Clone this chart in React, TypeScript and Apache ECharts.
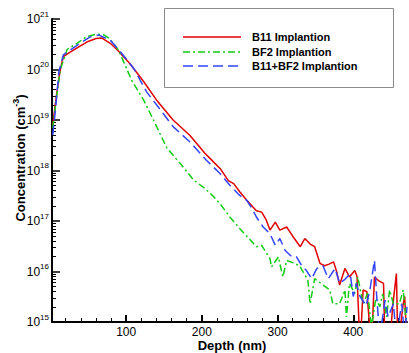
import React, { useEffect, useRef } from "react";
import * as echarts from "echarts";

const depthB11 = [3, 8, 13, 17, 26, 39, 48, 60, 68, 79, 90, 105, 123, 140, 162, 184, 204, 215, 224, 235, 242, 250, 259, 266, 272, 279, 285, 290, 297, 303, 312, 320, 330, 336, 343, 349, 356, 362, 368, 374, 378, 382, 389, 395, 402, 405, 409, 413, 418, 424, 428, 434, 440, 442, 448, 452, 457, 459, 466, 468, 471];
const concB11 = [8e18, 3.2e19, 1e20, 1.8e20, 2.2e20, 2.9e20, 3.5e20, 4.1e20, 4.2e20, 3.3e20, 2.3e20, 1.3e20, 5.8e19, 2.5e19, 1e19, 5e18, 2.2e18, 1.5e18, 1.1e18, 6.3e17, 5.5e17, 3.8e17, 2.6e17, 2.0e17, 1.6e17, 1.5e17, 1.05e17, 6.6e16, 9.5e16, 6.6e16, 7.6e16, 5e16, 3.1e16, 4.5e16, 3.5e16, 3.1e16, 1.45e16, 1.3e16, 1.4e16, 1.55e16, 1e16, 5.4e15, 1.15e16, 7.8e15, 1.05e16, 8e15, 3e14, 4.3e15, 4e15, 3e14, 7.8e15, 6.5e15, 5.8e15, 3e14, 3e14, 2e15, 9.1e15, 3e14, 2.3e15, 3.2e15, 3e14];

const depthBF2 = [3, 8, 13, 22, 35, 48, 61, 70, 77, 84, 90, 96, 107, 123, 136, 154, 171, 189, 204, 214, 224, 237, 250, 264, 272, 279, 290, 292, 301, 307, 312, 320, 329, 340, 343, 349, 360, 369, 373, 382, 389, 391, 395, 402, 406, 413, 419, 424, 430, 435, 439, 444, 448, 453, 461, 466, 470];
const concBF2 = [7e18, 2.8e19, 1e20, 2.5e20, 3.3e20, 4.5e20, 5.0e20, 4.9e20, 4.2e20, 3.2e20, 2.4e20, 1.5e20, 6.2e19, 2.5e19, 1e19, 2.75e18, 1.4e18, 6.5e17, 4.4e17, 3.2e17, 2.2e17, 1.2e17, 7.1e16, 4.2e16, 3.1e16, 3.3e16, 1.8e16, 1.23e16, 1.95e16, 7.8e15, 1.66e16, 1.5e16, 1.3e16, 6.8e15, 2.3e15, 7.2e15, 5.4e15, 4.3e15, 2.3e15, 2.3e15, 4.3e15, 1.26e15, 5.8e15, 3.7e15, 7.8e15, 2.3e15, 3.7e15, 8e14, 3e15, 2e15, 3.6e15, 1.26e15, 4.3e15, 2.3e15, 2.3e15, 4.3e15, 1e15];

const depthMix = [3, 7, 11, 17, 35, 52, 64, 79, 94, 110, 127, 145, 162, 184, 206, 224, 237, 250, 259, 266, 272, 281, 290, 297, 303, 310, 319, 325, 332, 338, 345, 352, 360, 367, 376, 382, 389, 396, 400, 404, 409, 417, 422, 428, 431, 435, 442, 446, 453, 457, 464, 468, 471];
const concMix = [5e18, 1.8e19, 9e19, 1.95e20, 3.0e20, 4.4e20, 4.8e20, 3.8e20, 2.1e20, 1.05e20, 3.6e19, 1.6e19, 7.4e18, 3.7e18, 1.6e18, 8.7e17, 5.1e17, 3.2e17, 2.6e17, 1.8e17, 1.2e17, 7.6e16, 5.6e16, 3.3e16, 4.5e16, 2.6e16, 1.95e16, 1.95e16, 1.3e16, 1.05e16, 7.2e15, 1.15e16, 1.3e16, 7.2e15, 1.15e16, 5.8e15, 7e15, 9.1e15, 3.2e15, 5.8e15, 3.2e15, 2.1e15, 4.3e15, 1.66e16, 3.2e15, 5e14, 2.7e15, 1.26e15, 2.3e15, 5e14, 2.3e15, 5e14, 2e15];

const seriesNames = ["B11 Implantion", "BF2 Implantion", "B11+BF2 Implantion"];
const seriesColors = ["#e00000", "#11cc11", "#3344ff"];
const seriesDash: (string | number[])[] = ["solid", [7, 3, 2, 3], [10, 5]];
const xMajorTicks = [100, 200, 300, 400];
const xMin = 2;
const xMax = 471;
const xTitle = "Depth (nm)";

const FONT = "Liberation Sans, Arial, sans-serif";

function pairs(xs: number[], ys: number[]) {
  return xs.map((x, i) => [x, ys[i]]);
}

export default function App() {
  const ref = useRef<HTMLDivElement>(null);
  useEffect(() => {
    if (!ref.current) return;
    const chart = echarts.init(ref.current, undefined, { renderer: "svg" });
    const xMinor: number[] = [];
    for (let v = 20; v < xMax; v += 20) if (v % 100 !== 0) xMinor.push(v);
    const yMinor: number[] = [];
    for (let n = 15; n < 21; n++) for (let k = 2; k <= 9; k++) yMinor.push(n + Math.log10(k));

    const legendRowsY = [37, 52, 66];
    const legendGraphics: any[] = [];
    seriesNames.forEach((name, i) => {
      const dash = seriesDash[i];
      legendGraphics.push({
        type: "line",
        shape: { x1: 183, y1: legendRowsY[i], x2: 241, y2: legendRowsY[i] },
        style: { stroke: seriesColors[i], lineWidth: 1.5, lineDash: typeof dash === "string" ? null : dash },
      });
      legendGraphics.push({
        type: "text",
        x: 252,
        y: legendRowsY[i],
        style: {
          text: name,
          fontFamily: FONT,
          fontWeight: "bold",
          fontSize: 11,
          fill: "#000",
          align: "left",
          verticalAlign: "middle",
        },
      });
    });

    chart.setOption({
      animation: false,
      backgroundColor: "#fff",
      grid: { left: 52, right: 2, top: 19, bottom: 31, containLabel: false, outerBoundsMode: "none" },
      xAxis: [
        {
          type: "value",
          min: xMin,
          max: xMax,
          axisLine: { lineStyle: { color: "#000", width: 2 } },
          axisTick: { inside: true, length: 7, customValues: xMajorTicks, lineStyle: { color: "#000", width: 2 } },
          axisLabel: { customValues: xMajorTicks, fontFamily: FONT, fontSize: 12, color: "#000", margin: 4 },
          splitLine: { show: false },
        },
        {
          type: "value",
          min: xMin,
          max: xMax,
          position: "bottom",
          axisLine: { show: false },
          axisTick: { inside: true, length: 4, customValues: xMinor, lineStyle: { color: "#000", width: 1 } },
          axisLabel: { show: false },
          splitLine: { show: false },
        },
      ],
      yAxis: [
        {
          type: "log",
          logBase: 10,
          min: 1e15,
          max: 1e21,
          axisLine: { show: true, lineStyle: { color: "#000", width: 2 } },
          axisTick: { show: true, inside: true, length: 8, lineStyle: { color: "#000", width: 1.5 } },
          axisLabel: {
            fontFamily: FONT,
            color: "#000",
            margin: 3,
            formatter: (v: number) => `{a|10}{b|${Math.round(Math.log10(v))}}`,
            rich: {
              a: { fontFamily: FONT, fontSize: 12, color: "#000" },
              b: { fontFamily: FONT, fontSize: 8, color: "#000", padding: [0, 0, 10, 0] },
            },
          },
          splitLine: { show: false },
        },
        {
          type: "value",
          min: 15,
          max: 21,
          position: "left",
          axisLine: { show: false },
          axisTick: { show: true, inside: true, length: 4, customValues: yMinor, lineStyle: { color: "#000", width: 1 } },
          axisLabel: { show: false },
          splitLine: { show: false },
        },
      ],
      graphic: [
        {
          type: "rect",
          shape: { x: 164.5, y: 8.5, width: 229, height: 79 },
          style: { fill: "#fff", stroke: "#8a8a8a", lineWidth: 1 },
        },
        ...legendGraphics,
        {
          type: "text",
          x: 20,
          y: 158,
          rotation: Math.PI / 2,
          style: {
            text: "{n|Concentration (cm}{s|-3}{n|)}",
            align: "center",
            verticalAlign: "middle",
            rich: {
              n: { fontFamily: FONT, fontWeight: "bold", fontSize: 13, fill: "#000" },
              s: { fontFamily: FONT, fontWeight: "bold", fontSize: 9, fill: "#000", padding: [0, 0, 9, 0] },
            },
          },
        },
        {
          type: "text",
          x: 232,
          y: 345,
          style: {
            text: xTitle,
            fontFamily: FONT,
            fontWeight: "bold",
            fontSize: 13,
            fill: "#000",
            align: "center",
            verticalAlign: "middle",
          },
        },
      ],
      series: seriesNames.map((name, i) => ({
        name,
        type: "line",
        data: [pairs(depthB11, concB11), pairs(depthBF2, concBF2), pairs(depthMix, concMix)][i],
        symbol: "none",
        showSymbol: false,
        clip: true,
        lineStyle: { color: seriesColors[i], width: 1.5, type: seriesDash[i] },
        itemStyle: { color: seriesColors[i] },
      })),
    });
    return () => chart.dispose();
  }, []);
  return <div ref={ref} style={{ position: "absolute", left: 0, top: 0, width: 409, height: 353 }} />;
}
